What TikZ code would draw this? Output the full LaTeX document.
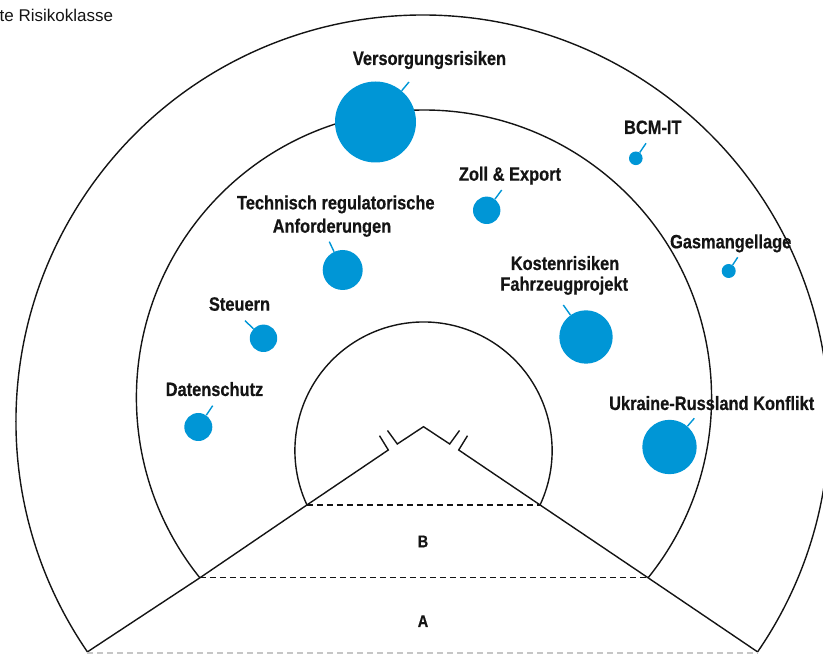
\documentclass[tikz,border=0pt]{standalone}
\usepackage{fontspec}
\setmainfont{Liberation Sans}
\newfontfamily\labfont[FakeStretch=0.85, FakeBold=0.5]{Liberation Sans}
\definecolor{pblue}{RGB}{0,150,214}
\definecolor{ink}{RGB}{20,20,20}
\tikzset{
  ring/.style={draw=ink, line width=1.4pt},
  sepline/.style={draw=ink, line width=1.2pt, dash pattern=on 6pt off 4pt},
  bubble/.style={circle, fill=pblue, inner sep=0pt, minimum size=#1},
  leader/.style={draw=pblue, line width=1.4pt},
  lab/.style={font=\labfont\bfseries\fontsize{19.3}{21}\selectfont, text=ink, inner sep=0pt, anchor=base},
  zone/.style={font=\labfont\bfseries\fontsize{17}{19}\selectfont, text=ink, inner sep=0pt, anchor=base},
}
\begin{document}
\begin{tikzpicture}[x=1pt,y=1pt]
\useasboundingbox (0,0) rectangle (823,654);
\begin{scope}
\clip (0,0) rectangle (823,654);
% rings
\coordinate (oL) at (87.4,2.1);
\coordinate (oR) at (757.6,2.1);
\coordinate (mL) at (199.9,76.2);
\coordinate (mR) at (648.1,76.2);
\coordinate (iL) at (306.95,149.05);
\coordinate (iR) at (540.05,149.05);
\draw[ring] (oR) arc[start angle=-34.5, end angle=214.5, radius=406.6];
\draw[ring] (mR) arc[start angle=-38.8, end angle=218.8, radius=287.6];
\draw[ring] (iR) arc[start angle=-25, end angle=205, radius=128.6];
% triangle with break marks
\coordinate (P1) at (388.3,204);
\coordinate (T1) at (379.5,218.3);
\coordinate (P2) at (397.3,210);
\coordinate (T2) at (387.5,223.5);
\coordinate (pk) at (423.5,227.3);
\coordinate (Q2) at (449.7,210);
\coordinate (U2) at (459.5,223.5);
\coordinate (Q1) at (458.7,204);
\coordinate (U1) at (467.5,218.3);
\draw[ring, line join=miter] (oL) -- (mL) -- (iL) -- (P1) -- (T1);
\draw[ring, line join=miter] (T2) -- (P2) -- (pk) -- (Q2) -- (U2);
\draw[ring, line join=miter] (oR) -- (mR) -- (iR) -- (Q1) -- (U1);
% zone separators
\draw[sepline] (iL) -- (iR);
\draw[sepline] (mL) -- (mR);
\draw[sepline, draw=gray!45] (87.4,1) -- (757.6,1);
\end{scope}

% zone labels
\node[zone] (zB) at (423,106.7) {B};
\node[zone] (zA) at (423,27) {A};

% top-left caption
\node[font=\fontsize{17}{19}\selectfont, text=ink, inner sep=0pt, anchor=base west] (cap) at (-0.5,632.3) {te Risikoklasse};

% bubbles
\node[bubble=81pt] (bv) at (375.5,532) {};
\node[bubble=13.6pt] (bbcm) at (635.8,495.7) {};
\node[bubble=14pt] (bgas) at (728.7,383) {};
\node[bubble=27.4pt] (bzoll) at (486.7,443.7) {};
\node[bubble=40pt] (btech) at (342.7,384) {};
\node[bubble=53.4pt] (bkost) at (586,317) {};
\node[bubble=27.4pt] (bst) at (263.5,315.7) {};
\node[bubble=28pt] (bds) at (198.3,227) {};
\node[bubble=54.4pt] (bukr) at (669.5,207) {};

% leader ends
\coordinate (ev) at (409,572);
\coordinate (ebcm) at (646,510.7);
\coordinate (egas) at (737.7,396.7);
\coordinate (ezoll) at (501.7,464);
\coordinate (etech) at (329.3,412.3);
\coordinate (ekost) at (563.3,349);
\coordinate (est) at (245,333.3);
\coordinate (eds) at (212.7,248.3);
\coordinate (eukr) at (694.3,235.7);
\draw[leader] (bv) -- (ev);
\draw[leader] (bbcm) -- (ebcm);
\draw[leader] (bgas) -- (egas);
\draw[leader] (bzoll) -- (ezoll);
\draw[leader] (btech) -- (etech);
\draw[leader] (bkost) -- (ekost);
\draw[leader] (bst) -- (est);
\draw[leader] (bds) -- (eds);
\draw[leader] (bukr) -- (eukr);

% labels
\node[lab] (lv) at (429.5,589) {Versorgungsrisiken};
\node[lab] (lbcm) at (652.8,520) {BCM-IT};
\node[lab] (lgas) at (730.7,405.7) {Gasmangellage};
\node[lab] (lzoll) at (510,473.3) {Zoll \& Export};
\node[lab] (ltech1) at (335.8,444.7) {Technisch regulatorische};
\node[lab] (ltech2) at (332,421.3) {Anforderungen};
\node[lab] (lkost1) at (565,384) {Kostenrisiken};
\node[lab] (lkost2) at (564.2,363.3) {Fahrzeugprojekt};
\node[lab] (lst) at (239.5,343.3) {Steuern};
\node[lab] (lds) at (214.5,258) {Datenschutz};
\node[lab] (lukr) at (711.7,244) {Ukraine-Russland Konflikt};
\end{tikzpicture}
\end{document}
